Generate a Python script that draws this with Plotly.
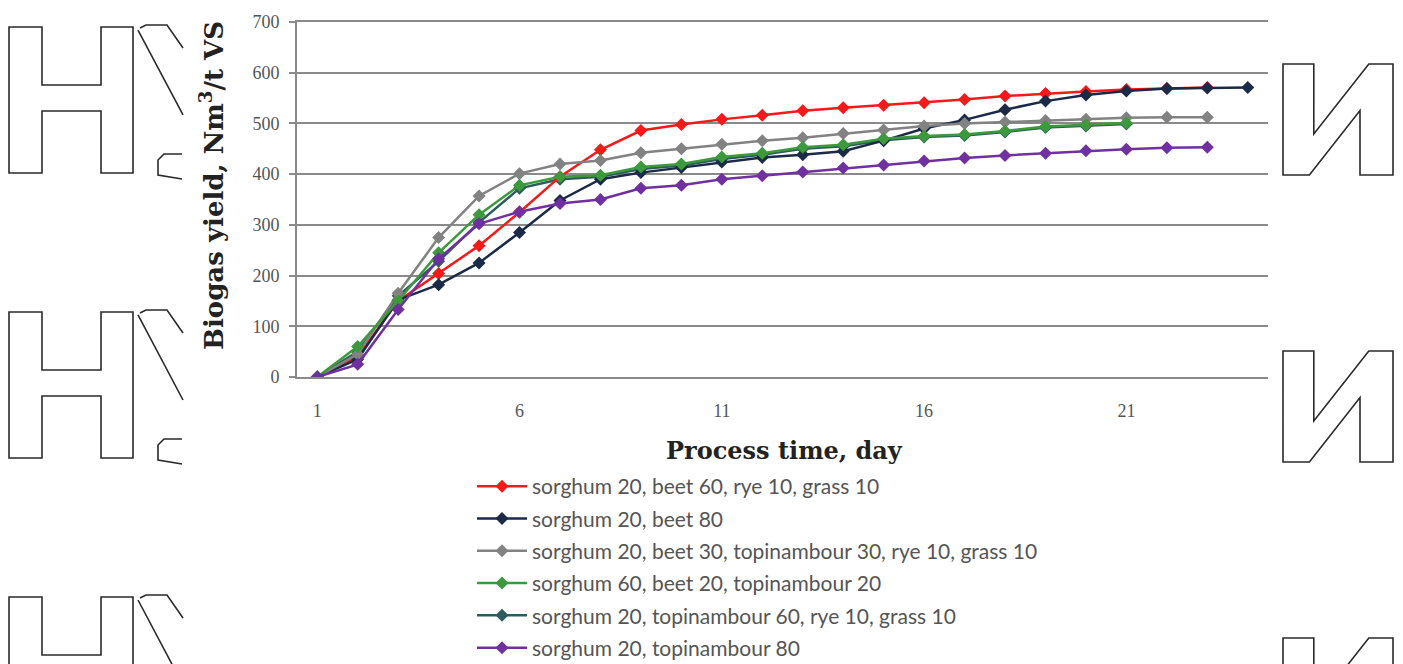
import plotly.graph_objects as go

days = list(range(1, 25))

series_names = [
    "sorghum 20, beet 60, rye 10, grass 10",
    "sorghum 20, beet 80",
    "sorghum 20, beet 30, topinambour 30, rye 10, grass 10",
    "sorghum 60, beet 20, topinambour 20",
    "sorghum 20, topinambour 60, rye 10, grass 10",
    "sorghum 20, topinambour 80",
]

red_vals = [0, 40, 150, 204, 259, 325, 395, 448, 486, 498, 508, 516, 525, 531,
            536, 541, 547, 554, 559, 563, 567, 569, 571]
navy_vals = [0, 35, 152, 182, 225, 285, 348, 390, 403, 413, 424, 433, 438, 445,
             466, 490, 507, 527, 544, 556, 564, 569, 570, 571]
gray_vals = [0, 45, 165, 275, 357, 401, 420, 427, 442, 450, 459, 466, 472, 480,
             487, 495, 500, 503, 506, 508, 511, 512, 512]
green_vals = [0, 60, 150, 245, 320, 378, 395, 398, 414, 420, 434, 441, 453, 458,
              470, 475, 478, 485, 494, 497, 501]
teal_vals = [0, 50, 160, 228, 305, 372, 390, 395, 410, 417, 430, 438, 450, 455,
             467, 473, 476, 483, 492, 495, 499]
purple_vals = [0, 25, 133, 233, 302, 326, 342, 350, 372, 378, 390, 397, 404, 412,
               418, 426, 432, 437, 441, 446, 449, 452, 453]

colors = ["#f41a1a", "#1c2a47", "#828282", "#3c9a3c", "#2c5c5c", "#7030a0"]
all_vals = [red_vals, navy_vals, gray_vals, green_vals, teal_vals, purple_vals]

x_ticks = [1, 6, 11, 16, 21]
y_ticks = [0, 100, 200, 300, 400, 500, 600, 700]

# layout in pixels
W_FIG, H_FIG = 1403, 664
L, R, T, B = 297, 135, 22, 287
PW = W_FIG - L - R
PH = H_FIG - T - B


def px(xp):
    return (xp - L) / PW


def py(yp):
    return (T + PH - yp) / PH


fig = go.Figure()

# drawing order: teal below green so green stays visible
draw_order = [4, 0, 1, 2, 3, 5]
for i in draw_order:
    vals = all_vals[i]
    fig.add_trace(go.Scatter(
        x=days[:len(vals)], y=vals, name=series_names[i],
        mode="lines+markers",
        line=dict(color=colors[i], width=2.5),
        marker=dict(symbol="diamond", size=10, color=colors[i]),
        legendrank=i + 1,
        legendgroup=str(i),
    ))

grid_col = "#8a8a8a"
fig.update_xaxes(
    range=[0.5, 24.5], tickvals=x_ticks, ticktext=[str(v) for v in x_ticks],
    showgrid=False, zeroline=False, showline=True, mirror=True,
    linecolor=grid_col, linewidth=2,
    ticks="", tickfont=dict(family="Liberation Serif", size=18, color="#555555"),
    ticklabelstandoff=16,
)
fig.update_yaxes(
    range=[0, 700], tickvals=y_ticks, showgrid=True, gridcolor=grid_col, gridwidth=2,
    zeroline=False, showline=True, linecolor=grid_col, linewidth=2,
    ticks="outside", ticklen=6, tickcolor=grid_col, tickwidth=1.5,
    tickfont=dict(family="Liberation Serif", size=18, color="#555555"),
    ticklabelstandoff=6,
)

annotations = [
    dict(text="Process time, day", xref="paper", yref="paper", x=px(784), y=py(450),
         xanchor="center", yanchor="middle", showarrow=False,
         font=dict(family="DejaVu Serif", size=24, color="#222222", weight="bold")),
    dict(text="Biogas yield, Nm<sup>3</sup>/t VS", xref="paper", yref="paper",
         x=px(212), y=py(186), xanchor="center", yanchor="middle", showarrow=False,
         textangle=-90,
         font=dict(family="DejaVu Serif", size=26, color="#222222", weight="bold")),
]

# decorative outline glyphs at the page edges
shapes = []


def path_from(points):
    return "M " + " L ".join(f"{px(a):.5f},{py(b):.5f}" for a, b in points) + " Z"


def open_path(points):
    return "M " + " L ".join(f"{px(a):.5f},{py(b):.5f}" for a, b in points)


glyph_line = dict(color="#2a2a2a", width=1.6)
for off in [0, 285, 570]:
    H_pts = [(9, 27), (42, 27), (42, 85), (101, 85), (101, 27), (133, 27), (133, 173),
             (101, 173), (101, 111), (42, 111), (42, 173), (9, 173)]
    H_pts = [(a, b + off) for a, b in H_pts]
    shapes.append(dict(type="path", xref="paper", yref="paper", path=path_from(H_pts),
                       line=glyph_line, layer="below"))
    shapes.append(dict(type="path", xref="paper", yref="paper",
                       path=open_path([(138, 30 + off), (183, 115 + off)]),
                       line=glyph_line, layer="below"))
    shapes.append(dict(type="path", xref="paper", yref="paper",
                       path=open_path([(140, 28 + off), (146, 25 + off), (167, 25 + off),
                                       (183, 48 + off)]),
                       line=glyph_line, layer="below"))
    shapes.append(dict(type="path", xref="paper", yref="paper",
                       path=open_path([(182, 154 + off), (164, 154 + off), (158, 160 + off),
                                       (158, 175 + off), (182, 179 + off)]),
                       line=glyph_line, layer="below"))

for top in [64, 351, 638]:
    x0, w, h = 1283, 110, 111
    fr = [(0, 0), (0.28, 0), (0.28, 0.63), (0.78, 0), (1, 0), (1, 1), (0.70, 1),
          (0.70, 0.42), (0.24, 1), (0, 1)]
    pts = [(x0 + fx * w, top + fy * h) for fx, fy in fr]
    shapes.append(dict(type="path", xref="paper", yref="paper", path=path_from(pts),
                       line=glyph_line, layer="below"))

fig.update_layout(
    width=W_FIG, height=H_FIG,
    margin=dict(l=L, r=R, t=T, b=B, autoexpand=False),
    paper_bgcolor="white", plot_bgcolor="white",
    showlegend=True,
    legend=dict(
        x=px(472), y=py(466), xanchor="left", yanchor="top",
        font=dict(family="Lato", size=21, color="#555555"),
        itemwidth=50, tracegroupgap=2, traceorder="grouped",
        bgcolor="rgba(0,0,0,0)",
    ),
    annotations=annotations,
    shapes=shapes,
)

fig.write_html(
    "out.html",
    config={"displayModeBar": False},
    post_script="document.body.style.margin='0';document.body.style.overflow='hidden';",
)
